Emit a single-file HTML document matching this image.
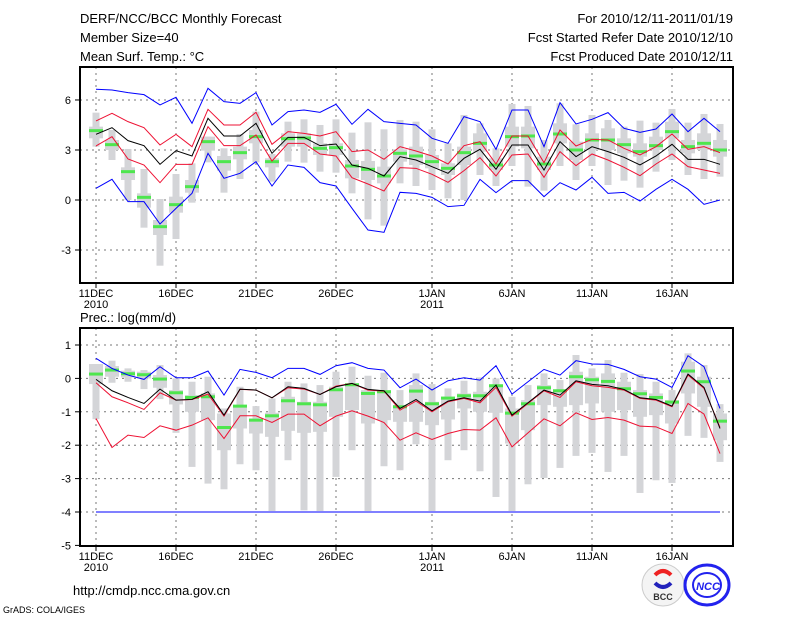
<!DOCTYPE html>
<html><head><meta charset="utf-8"><style>
html,body{margin:0;padding:0;background:#fff;width:800px;height:618px;overflow:hidden}
svg{display:block;font-family:"Liberation Sans",sans-serif}
</style></head><body>
<svg id="chart" width="800" height="618" viewBox="0 0 800 618">
<g font-size="13" fill="#000">
<text x="80" y="23">DERF/NCC/BCC Monthly Forecast</text>
<text x="80" y="42">Member Size=40</text>
<text x="80" y="61">Mean Surf. Temp.: °C</text>
<text x="733" y="23" text-anchor="end">For 2010/12/11-2011/01/19</text>
<text x="733" y="42" text-anchor="end">Fcst Started Refer Date 2010/12/10</text>
<text x="733" y="61" text-anchor="end">Fcst Produced Date 2010/12/11</text>
<text x="80" y="322">Prec.: log(mm/d)</text>
<text x="73" y="595">http://cmdp.ncc.cma.gov.cn</text>
<text x="3" y="613" font-size="9">GrADS: COLA/IGES</text>
</g>
<g>
<circle cx="663" cy="585" r="21" fill="#f4f4f4" stroke="#ccc"/>
<path d="M655 575 q8 -8 16 0" stroke="#e22" stroke-width="4" fill="none"/>
<path d="M655 583 q8 8 16 0" stroke="#22b" stroke-width="4" fill="none"/>
<text x="663" y="600" font-size="9" font-weight="bold" text-anchor="middle" fill="#333">BCC</text>
</g>
<g>
<ellipse cx="707" cy="585" rx="22" ry="20" fill="none" stroke="#22e" stroke-width="3"/>
<ellipse cx="707" cy="585" rx="14" ry="12" fill="none" stroke="#22e" stroke-width="2"/>
<text x="708" y="590" font-size="11" font-weight="bold" font-style="italic" text-anchor="middle" fill="#22e">NCC</text>
</g>
<g id="plots"></g>
</svg>
<script>
const days = 40;
const xTickLabels = ["11DEC","16DEC","21DEC","26DEC","1JAN","6JAN","11JAN","16JAN"];
const xTickDays = [0,5,10,15,21,26,31,36];
const tTicks = [6,3,0,-3];
const pTicks = [1,0,-1,-2,-3,-4,-5];
// temperature series
const tBlueHi = [6.64,6.6,6.44,6.32,5.7,6.16,4.6,6.7,5.9,5.8,6.44,4.5,5.3,5.4,5.26,5.74,4.54,5.44,4.7,4.6,4.5,3.7,3.4,5.0,4.7,3.04,5.4,5.4,3.2,5.84,4.56,4.84,5.24,4.3,4.06,4.26,5.16,4.1,4.9,4.1];
const tBlueLo = [0.7,1.24,-0.1,-0.1,-1.44,-0.5,0.4,2.8,1.3,1.6,2.3,0.84,2.1,1.96,1.04,0.84,-0.5,-1.8,-1.94,0.46,0.4,0.16,-0.4,-0.32,1.24,0.44,1.16,1.16,0.2,1.04,0.6,1.36,0.4,0.46,-0.06,0.64,1.24,0.64,-0.26,0];
const tRedHi = [4.74,5.2,4.7,4.34,3.3,3.94,3.2,5.44,4.5,4.5,5.26,3.34,4.1,4.0,3.84,4.1,2.9,3.0,2.44,3.2,2.94,2.64,2.16,3.26,3.5,2.16,3.84,3.84,2.24,4.2,3.24,3.64,3.6,3.1,2.7,3.2,3.96,3.04,3.2,2.84];
const tMean = [3.94,4.34,3.56,3.26,2.14,2.96,2.64,4.9,3.84,3.84,4.6,2.8,3.76,3.76,3.26,3.36,2.1,1.9,1.44,2.6,2.4,2.0,1.6,2.5,3.04,1.84,3.3,3.3,1.8,3.5,2.6,3.2,2.9,2.56,2.1,2.64,3.34,2.44,2.44,2.14];
const tRedLo = [3.24,3.8,2.46,2.1,1.04,2.14,2.14,4.4,3.26,3.26,3.9,2.34,3.4,3.4,2.76,2.64,1.34,0.96,0.54,1.94,1.9,1.54,1.06,1.76,2.54,1.44,2.7,2.76,1.36,2.9,2.06,2.76,2.4,1.96,1.46,2.16,2.76,2.0,1.8,1.6];
const tMax = [5.24,4.2,3.06,1.86,0.06,1.56,2.2,3.8,3.1,3.96,5.3,2.76,4.7,4.84,4.5,4.84,4.04,4.66,4.24,4.8,4.7,4.24,3.4,5.1,4.6,3.1,5.76,5.64,3.6,5.8,4.54,5.1,4.8,4.4,4.76,4.64,5.46,4.64,5.16,4.56];
const tMin = [3.2,2.4,0,-1.66,-3.94,-2.34,-0.16,2.26,0.44,1.26,2.26,1.1,2.3,2.24,1.7,1.64,0.4,-1.16,-1.54,1.0,0.84,0.6,0.1,0,1.5,0.84,2.04,0.8,0.56,2.04,1.2,2.04,0.9,1.16,0.74,1.7,2.4,1.5,1.26,1.4];
const tQ3 = [4.4,3.6,1.96,0.4,-1.2,0.2,1.2,3.8,2.64,3.2,4.2,2.5,4.0,4.0,3.4,3.4,2.4,2.34,2.0,3.04,3.2,2.7,2.2,3.2,4.0,2.5,4.4,4.4,2.6,4.6,3.5,4.0,4.3,3.7,3.4,3.8,4.7,3.6,4.0,3.6];
const tQ1 = [3.7,3.0,1.2,-0.46,-2.1,-0.76,0.44,2.96,1.76,2.44,3.4,1.96,3.2,3.2,2.7,2.7,1.3,1.2,1.0,2.3,2.1,1.9,1.5,2.1,2.9,1.8,3.2,3.1,1.8,3.4,2.4,3.0,3.0,2.8,2.6,3.0,3.7,2.8,3.0,2.6];
const tMed = [4.16,3.32,1.7,0.16,-1.6,-0.28,0.8,3.5,2.3,2.84,3.8,2.3,3.68,3.72,3.1,3.14,2.04,1.84,1.44,2.8,2.64,2.3,1.9,2.84,3.4,2.1,3.8,3.84,2.16,3.96,3.0,3.6,3.6,3.32,2.9,3.26,4.1,3.2,3.4,3.0];
// precipitation series
const pBlueHi = [0.6,0.3,0.1,-0.03,0.35,0.02,0.02,0.22,-0.5,0.27,0.18,0.02,0.3,0.3,0.12,0.38,0.47,0.3,0.25,-0.28,-0.02,-0.35,-0.07,0.02,-0.05,0.38,-0.47,-0.1,0.27,0.1,0.53,0.43,0.42,0.27,0.05,-0.02,-0.27,0.68,0.35,-0.9];
const pBlueLo = [-4,-4,-4,-4,-4,-4,-4,-4,-4,-4,-4,-4,-4,-4,-4,-4,-4,-4,-4,-4,-4,-4,-4,-4,-4,-4,-4,-4,-4,-4,-4,-4,-4,-4,-4,-4,-4,-4,-4,-4];
const pRedHi = [-0.13,-0.55,-0.73,-0.93,-0.43,-0.65,-0.63,-0.47,-1.13,-0.33,-0.35,-0.58,-0.28,-0.32,-0.48,-0.23,-0.15,-0.35,-0.38,-0.95,-0.68,-1.0,-0.7,-0.6,-0.73,-0.27,-1.13,-0.75,-0.37,-0.57,-0.1,-0.22,-0.27,-0.35,-0.6,-0.65,-0.85,0.1,-0.3,-1.47];
const pMean = [-0.03,-0.37,-0.57,-0.75,-0.32,-0.65,-0.63,-0.4,-1.1,-0.32,-0.35,-0.58,-0.25,-0.3,-0.48,-0.25,-0.15,-0.33,-0.37,-0.9,-0.63,-0.97,-0.68,-0.58,-0.68,-0.2,-1.1,-0.73,-0.35,-0.5,-0.07,-0.18,-0.22,-0.33,-0.58,-0.63,-0.83,0.13,-0.27,-1.5];
const pRedLo = [-1.2,-2.07,-1.7,-1.77,-1.42,-1.55,-1.4,-1.18,-1.8,-1.12,-1.12,-1.32,-1.07,-1.07,-1.42,-1.13,-0.97,-1.13,-1.32,-1.85,-1.63,-1.83,-1.65,-1.53,-1.55,-1.18,-2.05,-1.63,-1.21,-1.42,-1.03,-1.23,-1.17,-1.25,-1.43,-1.45,-1.65,-0.75,-1.07,-2.25];
const pMax = [0.43,0.53,0.3,0.25,0.4,0,-0.1,0.05,-0.9,-0.25,-0.83,-0.6,-0.1,-0.15,-0.2,0.2,0.35,0.08,0.17,-0.35,0.15,-0.17,-0.3,-0.07,0.03,0,-0.55,-0.2,0.15,-0.05,0.7,0.3,0.55,0.17,0.13,-0.1,-0.35,0.75,0.4,-0.77];
const pMin = [-1.22,-0.13,-0.1,-0.32,-0.62,-1.63,-2.65,-3.15,-3.32,-2.57,-2.75,-3.97,-2.45,-3.95,-3.97,-2.95,-2.15,-3.97,-2.63,-2.75,-1.97,-3.97,-2.45,-2.15,-2.78,-3.55,-3.97,-3.17,-2.98,-2.68,-2.32,-2.23,-2.8,-2.32,-3.43,-3.05,-3.13,-1.72,-1.78,-2.5];
const pQ3 = [0.43,0.37,0.23,0.2,0.1,-0.35,-0.5,-0.45,-1.05,-0.8,-1.2,-1.03,-0.55,-0.7,-0.7,-0.25,-0.15,-0.35,-0.35,-0.8,-0.2,-0.7,-0.55,-0.45,-0.4,-0.2,-0.9,-0.65,-0.2,-0.35,0.2,0.05,0.15,-0.1,-0.35,-0.45,-0.65,0.5,0.05,-1.05];
const pQ1 = [-0.17,0.05,0.03,0,-0.28,-0.78,-1.0,-1.25,-2.15,-1.5,-1.65,-1.75,-1.57,-1.63,-1.6,-1.15,-0.95,-1.35,-1.25,-1.3,-1.3,-1.4,-1.23,-0.9,-1.0,-1.03,-1.95,-1.55,-0.8,-0.85,-0.8,-0.75,-1.0,-0.95,-1.15,-1.1,-1.35,-0.45,-0.85,-1.85];
const pMed = [0.13,0.25,0.14,0.11,-0.02,-0.43,-0.57,-0.55,-1.47,-0.83,-1.25,-1.12,-0.67,-0.76,-0.79,-0.34,-0.19,-0.45,-0.4,-0.85,-0.38,-0.76,-0.59,-0.52,-0.52,-0.22,-1.04,-0.76,-0.28,-0.37,0.05,-0.04,-0.09,-0.31,-0.46,-0.57,-0.71,0.22,-0.1,-1.28];

const NS = "http://www.w3.org/2000/svg";
const root = document.getElementById("plots");
function xAt(i){ return 96 + 16*i; }
function mk(tag, attrs, parent){
  const e = document.createElementNS(NS, tag);
  for (const k in attrs) e.setAttribute(k, attrs[k]);
  parent.appendChild(e);
  return e;
}

function panel(key, top, bottom, yOf, ticks, boxes, lines){
  const g = mk("g", {}, root);
  
  
  ticks.forEach(function(t){
    const y = yOf(t);
    if (y > top + 1 && y < bottom - 1) {
      const gl = mk("line", {x1:80, x2:733, y1:y, y2:y, stroke:"#777", "stroke-dasharray":"2,4"}, g);
      
      
    }
    const tk = mk("line", {x1:75, x2:80, y1:y, y2:y, stroke:"#000"}, g);
    
    
    const tl = mk("text", {x:71, y:y+4, "font-size":11, "text-anchor":"end"}, g);
    tl.textContent = t;
    
    
  });
  xTickDays.forEach(function(d, k){
    const x = xAt(d);
    const gl = mk("line", {x1:x, x2:x, y1:top, y2:bottom, stroke:"#777", "stroke-dasharray":"2,4"}, g);
    
    
    const tk = mk("line", {x1:x, x2:x, y1:bottom, y2:bottom+5, stroke:"#000"}, g);
    
    
    const tl = mk("text", {x:x, y:bottom+14, "font-size":11, "text-anchor":"middle"}, g);
    tl.textContent = xTickLabels[k];
    
    
    if (d === 0 || d === 21) {
      const yl = mk("text", {x:x, y:bottom+25, "font-size":11, "text-anchor":"middle"}, g);
      yl.textContent = d === 0 ? "2010" : "2011";
      
      
    }
  });
  for (let i = 0; i < days; i++){
    const x = xAt(i);
    const w = mk("rect", {x:x-3.5, y:yOf(boxes.max[i]), width:7, height:Math.max(1,yOf(boxes.min[i])-yOf(boxes.max[i])), fill:"#d4d5d8"}, g);
    
    
    const b = mk("rect", {x:x-7, y:yOf(boxes.q3[i]), width:14, height:Math.max(1,yOf(boxes.q1[i])-yOf(boxes.q3[i])), fill:"#d4d5d8"}, g);
    
    
  }
  for (let i = 0; i < days; i++){
    const m = mk("rect", {x:xAt(i)-7, y:yOf(boxes.med[i])-1.5, width:14, height:3, fill:"#4ee64e"}, g);
    
    
  }
  lines.forEach(function(L){
    const pts = L.data.map(function(v,i){ return xAt(i) + "," + yOf(v); }).join(" ");
    const p = mk("polyline", {points:pts, fill:"none", stroke:L.color, "stroke-width":1}, g);
    
    
  });
  const fr = mk("rect", {x:80, y:top, width:653, height:bottom-top, fill:"none", stroke:"#000", "stroke-width":2}, g);
  
  
}

panel("temperature", 67, 283, function(v){ return 200 - v*16.67; }, tTicks,
  {max:tMax, min:tMin, q3:tQ3, q1:tQ1, med:tMed},
  [{data:tBlueHi,color:"#0000ff",name:"temp-upper-blue-line"},{data:tBlueLo,color:"#0000ff",name:"temp-lower-blue-line"},
   {data:tRedHi,color:"#ee1133",name:"temp-upper-red-line"},{data:tRedLo,color:"#ee1133",name:"temp-lower-red-line"},
   {data:tMean,color:"#000000",name:"temp-mean-line"}]);
panel("precipitation", 328, 546, function(v){ return 378.4 - v*33.4; }, pTicks,
  {max:pMax, min:pMin, q3:pQ3, q1:pQ1, med:pMed},
  [{data:pBlueHi,color:"#0000ff",name:"prec-upper-blue-line"},{data:pBlueLo,color:"#0000ff",name:"prec-lower-blue-line"},
   {data:pRedLo,color:"#ee1133",name:"prec-lower-red-line"},{data:pRedHi,color:"#ee1133",name:"prec-upper-red-line"},
   {data:pMean,color:"#000000",name:"prec-mean-line"}]);
</script>
</body></html>
